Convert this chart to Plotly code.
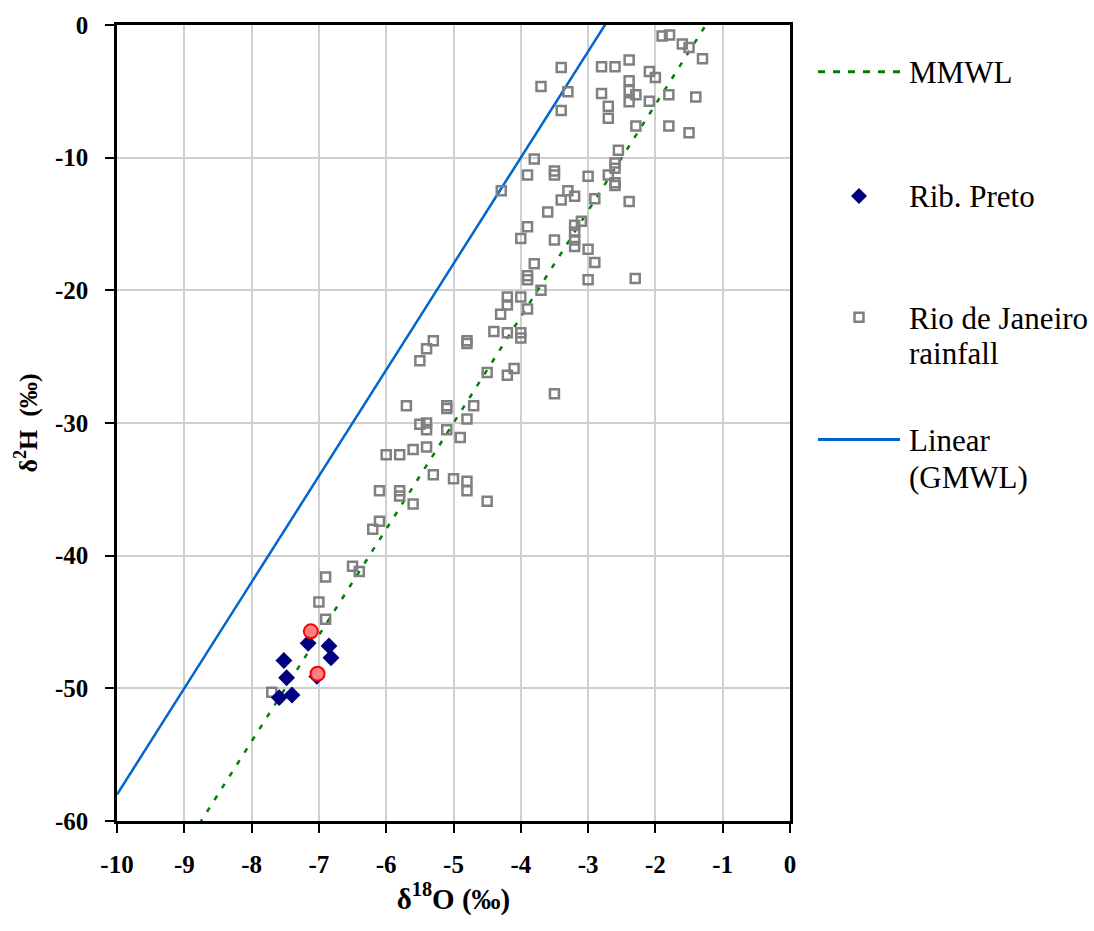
import plotly.graph_objects as go

# Rio de Janeiro rainfall samples (δ18O, δ2H in ‰)
rio_d18o = [-1.90, -1.79, -1.60, -1.50, -1.30, -3.40, -2.80, -2.60, -2.39, -2.09,
            -2.00, -3.70, -3.30, -2.80, -2.39, -2.39, -2.29, -2.39, -2.09, -1.80,
            -1.40, -2.70, -2.70, -3.40, -2.29, -1.80, -1.50, -2.55, -3.80, -3.90,
            -3.50, -3.50, -3.00, -2.70, -2.60, -2.60, -2.60, -2.60, -4.29, -3.30,
            -3.40, -3.20, -2.90, -2.39, -3.60, -3.90, -4.00, -3.50, -3.20, -3.10,
            -3.20, -3.20, -3.20, -3.00, -2.90, -3.80, -3.90, -3.90, -3.00, -2.30,
            -3.70, -4.20, -4.00, -4.20, -4.30, -3.90, -4.40, -4.20, -4.00, -4.00,
            -5.30, -5.40, -5.50, -4.80, -4.80, -4.50, -4.10, -4.20, -3.50, -5.70,
            -5.10, -5.10, -4.70, -4.80, -5.50, -5.40, -5.40, -5.10, -4.90, -6.00,
            -5.80, -5.60, -5.40, -5.30, -5.00, -4.80, -4.80, -4.50, -6.10, -5.80,
            -5.80, -5.60, -6.10, -6.20, -6.50, -6.40, -6.90, -7.00, -6.90, -7.70]
rio_d2h = [-0.82, -0.75, -1.44, -1.70, -2.54, -3.21, -3.14, -3.14, -2.64, -3.51,
           -3.96, -4.63, -5.03, -5.16, -4.21, -4.93, -5.25, -5.78, -5.75, -5.25,
           -5.43, -6.13, -7.03, -6.45, -7.62, -7.62, -8.12, -9.44, -10.1, -11.3,
           -11.0, -11.3, -11.4, -11.3, -10.4, -10.8, -11.9, -12.1, -12.5, -12.5,
           -13.2, -12.9, -13.1, -13.3, -14.1, -15.2, -16.1, -16.2, -15.1, -14.8,
           -15.6, -16.2, -16.7, -16.9, -17.9, -18.0, -18.9, -19.2, -19.2, -19.1,
           -20.0, -20.5, -20.5, -21.1, -21.8, -21.4, -23.1, -23.2, -23.2, -23.6,
           -23.8, -24.4, -25.3, -23.8, -24.0, -26.2, -25.9, -26.4, -27.8, -28.7,
           -28.7, -28.9, -28.7, -29.7, -30.1, -30.0, -30.5, -30.5, -31.1, -32.4,
           -32.4, -32.0, -31.8, -33.9, -34.2, -34.4, -35.1, -35.9, -35.1, -35.1,
           -35.5, -36.1, -37.4, -38.0, -40.8, -41.2, -41.6, -43.5, -44.8, -50.3]

# Ribeirão Preto groundwater samples
rib_d18o = [-7.16, -6.85, -6.82, -7.52, -7.48, -7.59, -7.40, -7.03]
rib_d2h = [-46.6, -46.8, -47.7, -47.9, -49.2, -50.7, -50.5, -49.1]

# Highlighted samples
hl_d18o = [-7.12, -7.02]
hl_d2h = [-45.7, -48.9]

# Meteoric water lines: d2H = slope * d18O + intercept
line_x = [-10.0, 0.0]
mmwl_slope, mmwl_intercept = 8.0, 10.0
gmwl_slope, gmwl_intercept = 8.0, 22.0

x_ticks = list(range(-10, 1))
y_ticks = list(range(-60, 1, 10))

SERIF = "Liberation Serif, Times New Roman, serif"
W, H = 1094, 931
L, R, T, B = 117, 304, 20, 110

fig = go.Figure()

fig.add_trace(go.Scatter(
    x=line_x, y=[mmwl_slope * v + mmwl_intercept for v in line_x],
    mode="lines", name="MMWL", showlegend=False,
    line=dict(color="#008000", width=2.5, dash="5px,9px")))

fig.add_trace(go.Scatter(
    x=line_x, y=[gmwl_slope * v + gmwl_intercept for v in line_x],
    mode="lines", name="Linear (GMWL)", showlegend=False,
    line=dict(color="#0066CC", width=2.5)))

fig.add_trace(go.Scatter(
    x=rio_d18o, y=rio_d2h, mode="markers", name="Rio de Janeiro rainfall",
    showlegend=False,
    marker=dict(symbol="square-open", size=9, color="#808080",
                line=dict(color="#808080", width=2.5))))

fig.add_trace(go.Scatter(
    x=rib_d18o, y=rib_d2h, mode="markers", name="Rib. Preto", showlegend=False,
    marker=dict(symbol="diamond", size=13, color="#000080",
                line=dict(color="#000080", width=0))))

fig.add_trace(go.Scatter(
    x=hl_d18o, y=hl_d2h, mode="markers", name="highlighted", showlegend=False,
    marker=dict(symbol="circle", size=14, color="#FF8080",
                line=dict(color="#FF0000", width=2))))


def px(xp, yp):
    """Convert page pixel position to paper coordinates."""
    return (xp - L) / (W - L - R), (H - B - yp) / (H - T - B)


shapes = []
annotations = []

# Custom legend on the right
lx0, lx1, lxm, tx = 818, 900, 859, 907
legend_font = dict(family=SERIF, size=31, color="black")

# MMWL entry
a, y0 = px(lx0, 67)
b, _ = px(lx1, 67)
shapes.append(dict(type="line", xref="paper", yref="paper", x0=a, x1=b, y0=y0, y1=y0,
                   line=dict(color="#008000", width=3, dash="7px,8px")))

# Rib. Preto entry
cx, cy = px(lxm, 192)
dx = 8 / (W - L - R)
dy = 8 / (H - T - B)
shapes.append(dict(type="path", xref="paper", yref="paper",
                   path=f"M {cx - dx} {cy} L {cx} {cy + dy} L {cx + dx} {cy} L {cx} {cy - dy} Z",
                   fillcolor="#000080", line=dict(width=0)))

# Rio de Janeiro entry
cx, cy = px(lxm, 314)
sx = 4.5 / (W - L - R)
sy = 4.5 / (H - T - B)
shapes.append(dict(type="rect", xref="paper", yref="paper",
                   x0=cx - sx, x1=cx + sx, y0=cy - sy, y1=cy + sy,
                   line=dict(color="#808080", width=2.5)))

# Linear (GMWL) entry
a, y0 = px(lx0, 437)
b, _ = px(lx1, 437)
shapes.append(dict(type="line", xref="paper", yref="paper", x0=a, x1=b, y0=y0, y1=y0,
                   line=dict(color="#0066CC", width=3)))

for text, ypix in [("MMWL", 68), ("Rib. Preto", 193), ("Rio de Janeiro", 315),
                   ("rainfall", 351), ("Linear", 438), ("(GMWL)", 475)]:
    xp, yp = px(tx, ypix)
    annotations.append(dict(text=text, xref="paper", yref="paper", x=xp, y=yp,
                            xanchor="left", yanchor="middle", showarrow=False,
                            font=legend_font))

fig.update_layout(
    width=W, height=H, autosize=False,
    margin=dict(l=L, r=R, t=T, b=B, pad=0),
    paper_bgcolor="white", plot_bgcolor="white",
    showlegend=False,
    shapes=shapes, annotations=annotations,
    font=dict(family=SERIF, color="black"),
)

fig.update_xaxes(
    range=[-10, 0], tickvals=x_ticks, ticktext=[str(v) for v in x_ticks],
    showgrid=True, gridcolor="#CFCFCF", gridwidth=1.5, zeroline=False,
    showline=True, linecolor="black", linewidth=2.5, mirror=True,
    ticks="outside", ticklen=9, tickwidth=2, tickcolor="black",
    tickfont=dict(family=SERIF, size=25, color="black", weight="bold"),
    ticklabelstandoff=10,
    title=dict(text="δ<sup>18</sup>O (‰)", standoff=12,
               font=dict(family=SERIF, size=29, color="black", weight="bold")),
)
fig.update_yaxes(
    range=[-60, 0], tickvals=y_ticks, ticktext=[str(v) for v in y_ticks],
    showgrid=True, gridcolor="#CFCFCF", gridwidth=1.5, zeroline=False,
    showline=True, linecolor="black", linewidth=2.5, mirror=True,
    ticks="outside", ticklen=9, tickwidth=2, tickcolor="black",
    tickfont=dict(family=SERIF, size=25, color="black", weight="bold"),
    ticklabelstandoff=12,
    title=dict(text="δ<sup>2</sup>H  (‰)", standoff=10,
               font=dict(family=SERIF, size=26, color="black", weight="bold")),
)

fig.write_html("out.html")
